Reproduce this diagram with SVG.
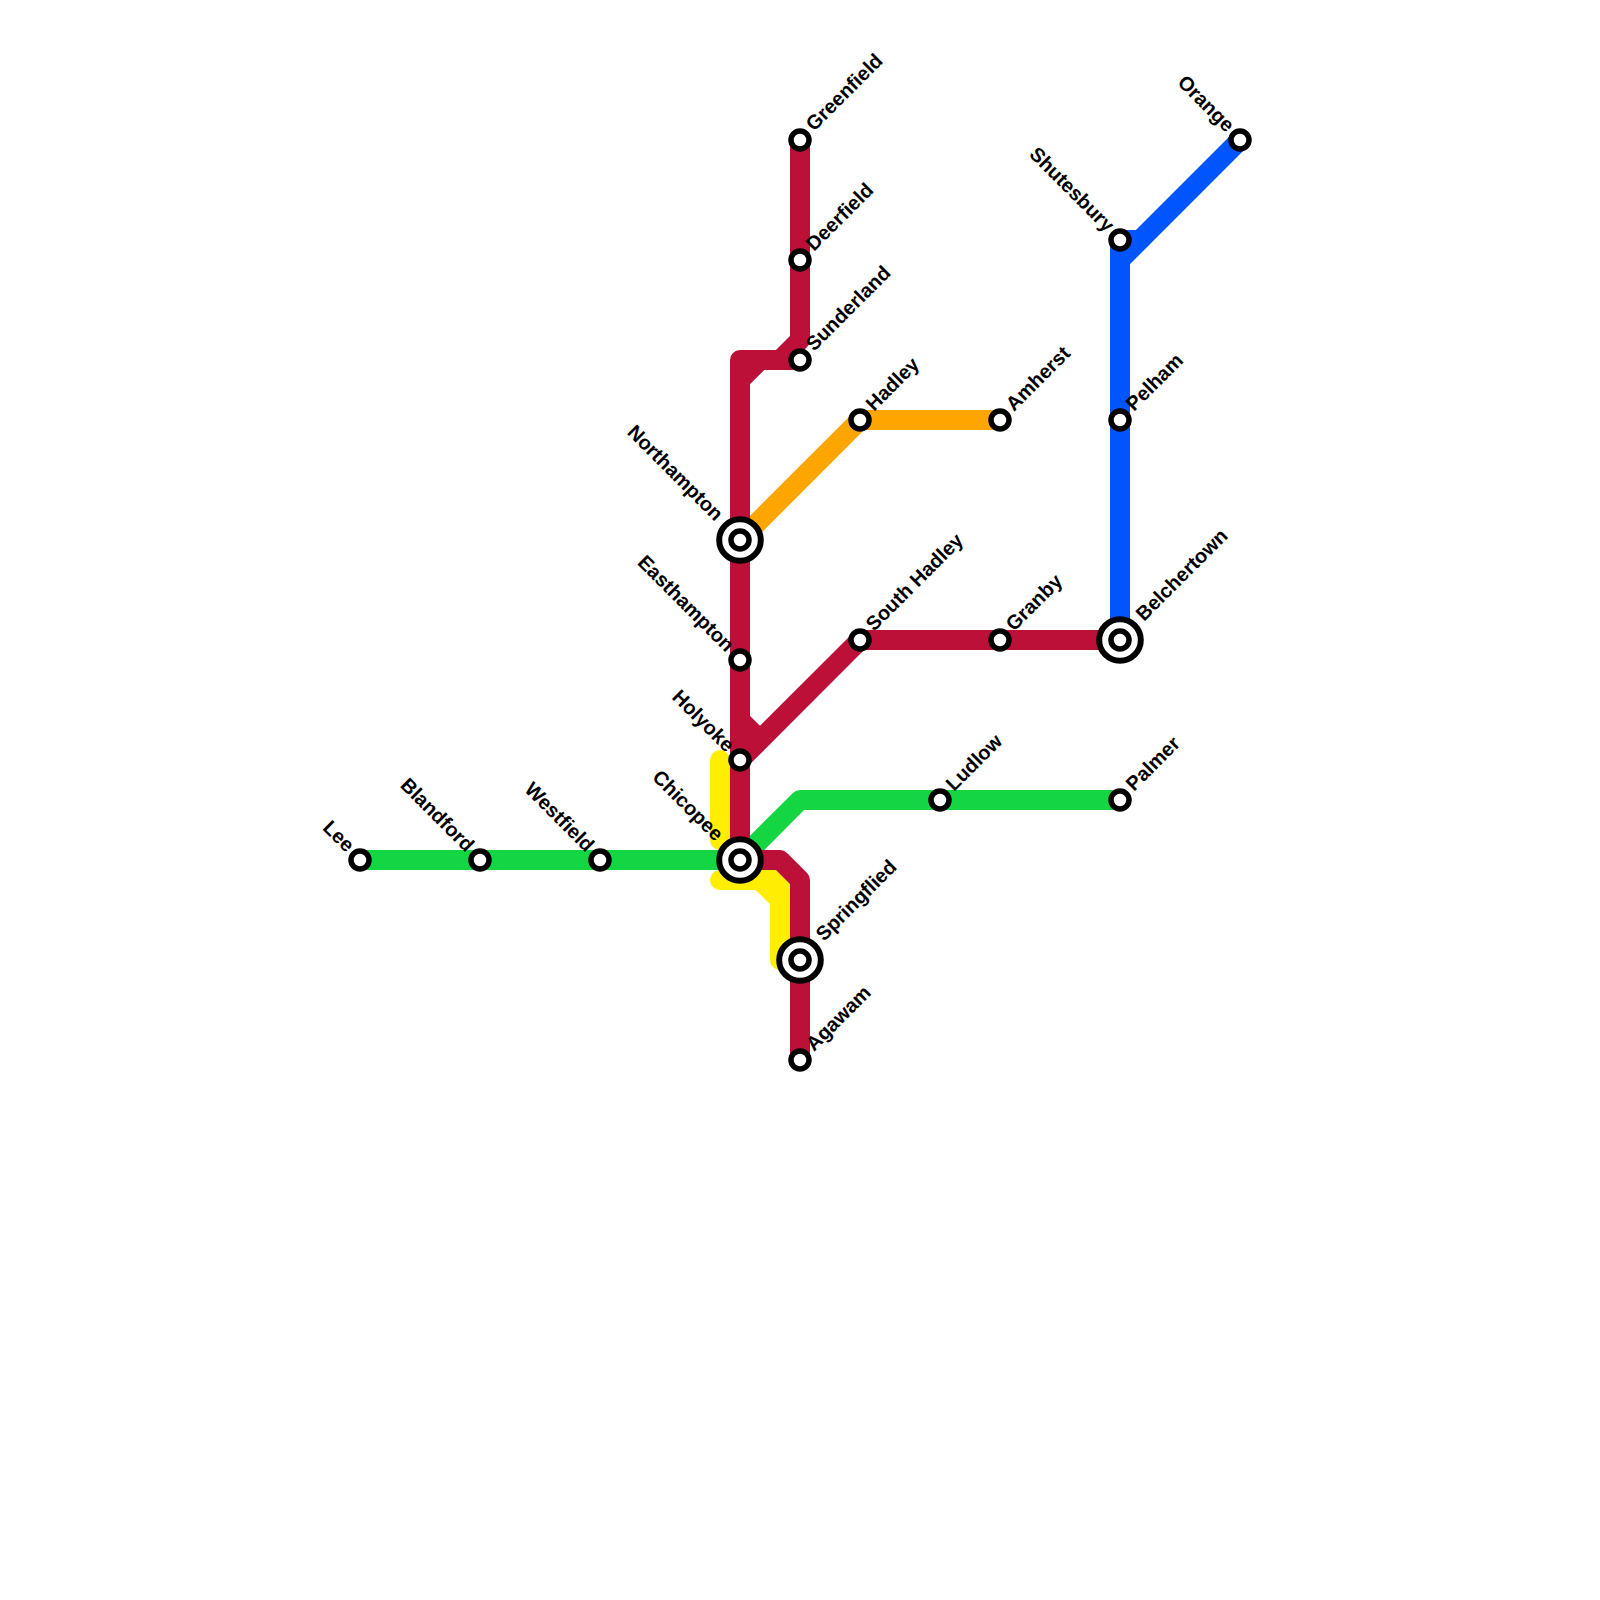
<svg xmlns="http://www.w3.org/2000/svg" width="1600" height="1600" viewBox="0 0 1600 1600">
<style>
.l{fill:none;stroke-width:20;stroke-linejoin:round;stroke-linecap:round}
.y{stroke:#ffee00}.g{stroke:#14d643}.r{stroke:#bd1038}.o{stroke:#ffa500}.b{stroke:#0055ff}
.s{fill:#fff;stroke:#000;stroke-width:5.5}
.i{fill:#fff;stroke:#000;stroke-width:6}
text{font-family:"Liberation Sans",Arial,sans-serif;font-size:20px;font-weight:700;fill:#000}
.e{text-anchor:end}
</style>
<rect width="1600" height="1600" fill="#fff"/>
<g id="connectors">
<path class="l y" d="M720,760V840M720,880H760L780,900V960"/>
<polygon points="740,870 776,870 790,884 790,940 770,940 770,903 756,890 740,890" fill="#ffee00"/>
<path class="l g" d="M360,860H740L800,800H1120"/>
<path class="l o" d="M740,540L860,420H1000"/>
<path class="l b" d="M1240,140L1120,260V640M1140,240H1120V260" stroke-linecap="butt"/>
<path class="l r" d="M800,140V340L780,360H800M800,360H740V860M760,360L740,380M740,720L760,740M740,760L860,640H1120M740,860H780L800,880V1060" stroke-linecap="butt"/>
</g>
<g id="lee"><circle class="s" cx="360" cy="860" r="9"/><text class="e" transform="translate(346,853) rotate(45)">Lee</text></g>
<g id="blandford"><circle class="s" cx="480" cy="860" r="9"/><text class="e" transform="translate(466,853) rotate(45)">Blandford</text></g>
<g id="westfield"><circle class="s" cx="600" cy="860" r="9"/><text class="e" transform="translate(586,853) rotate(45)">Westfield</text></g>
<g id="chicopee"><circle class="i" cx="740" cy="860" r="20.8"/><circle class="s" cx="740" cy="860" r="9"/><text class="e" transform="translate(715,842) rotate(45)">Chicopee</text></g>
<g id="holyoke"><circle class="s" cx="740" cy="760" r="9"/><text class="e" transform="translate(726,753) rotate(45)">Holyoke</text></g>
<g id="easthampton"><circle class="s" cx="740" cy="660" r="9"/><text class="e" transform="translate(726,653) rotate(45)">Easthampton</text></g>
<g id="northampton"><circle class="i" cx="740" cy="540" r="20.8"/><circle class="s" cx="740" cy="540" r="9"/><text class="e" transform="translate(715,522) rotate(45)">Northampton</text></g>
<g id="greenfield"><circle class="s" cx="800" cy="140" r="9"/><text transform="translate(814,132) rotate(-45)">Greenfield</text></g>
<g id="deerfield"><circle class="s" cx="800" cy="260" r="9"/><text transform="translate(814,252) rotate(-45)">Deerfield</text></g>
<g id="sunderland"><circle class="s" cx="800" cy="360" r="9"/><text transform="translate(814,352) rotate(-45)">Sunderland</text></g>
<g id="hadley"><circle class="s" cx="860" cy="420" r="9"/><text transform="translate(874,412) rotate(-45)">Hadley</text></g>
<g id="amherst"><circle class="s" cx="1000" cy="420" r="9"/><text transform="translate(1014,412) rotate(-45)">Amherst</text></g>
<g id="south-hadley"><circle class="s" cx="860" cy="640" r="9"/><text transform="translate(874,632) rotate(-45)">South Hadley</text></g>
<g id="granby"><circle class="s" cx="1000" cy="640" r="9"/><text transform="translate(1014,632) rotate(-45)">Granby</text></g>
<g id="belchertown"><circle class="i" cx="1120" cy="640" r="20.8"/><circle class="s" cx="1120" cy="640" r="9"/><text transform="translate(1144,622) rotate(-45)">Belchertown</text></g>
<g id="pelham"><circle class="s" cx="1120" cy="420" r="9"/><text transform="translate(1134,412) rotate(-45)">Pelham</text></g>
<g id="shutesbury"><circle class="s" cx="1120" cy="240" r="9"/><text class="e" transform="translate(1106,233) rotate(45)">Shutesbury</text></g>
<g id="orange"><circle class="s" cx="1240" cy="140" r="9"/><text class="e" transform="translate(1226,133) rotate(45)">Orange</text></g>
<g id="ludlow"><circle class="s" cx="940" cy="800" r="9"/><text transform="translate(954,792) rotate(-45)">Ludlow</text></g>
<g id="palmer"><circle class="s" cx="1120" cy="800" r="9"/><text transform="translate(1134,792) rotate(-45)">Palmer</text></g>
<g id="springfield"><circle class="i" cx="800" cy="960" r="20.8"/><circle class="s" cx="800" cy="960" r="9"/><text transform="translate(824,942) rotate(-45)">Springflied</text></g>
<g id="agawam"><circle class="s" cx="800" cy="1060" r="9"/><text transform="translate(814,1052) rotate(-45)">Agawam</text></g>
</svg>
